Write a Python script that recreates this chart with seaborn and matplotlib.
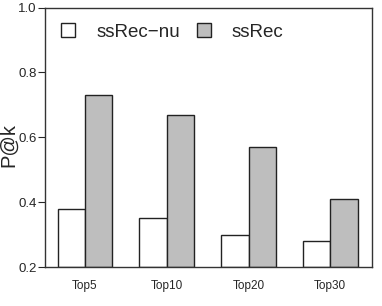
import pandas as pd
import matplotlib
matplotlib.use("Agg")
import matplotlib.pyplot as plt
import seaborn as sns

# -------------------
# Data
categories = ["Top5", "Top10", "Top20", "Top30"]
ssrec_nu = [0.38, 0.35, 0.30, 0.28]
ssrec = [0.73, 0.67, 0.57, 0.41]
series_names = ["ssRec\u2212nu", "ssRec"]

df = pd.DataFrame({
    "cat": categories * 2,
    "value": ssrec_nu + ssrec,
    "method": [series_names[0]] * 4 + [series_names[1]] * 4,
})

sns.set_style("white")
plt.rcParams["font.family"] = ["Liberation Sans", "DejaVu Sans"]

fig = plt.figure(figsize=(3.82, 3.06), dpi=100)
ax = fig.add_axes([45 / 382, 1 - 267 / 306, 327 / 382, 259.5 / 306])

sns.barplot(data=df, x="cat", y="value", hue="method", order=categories,
            palette=["white", "#bebebe"], width=0.67, edgecolor="#222222",
            linewidth=1.0, ax=ax, saturation=1)

# bars start at the bottom of the axis (0.2), like R's barplot with ylim
for p in ax.patches:
    h = p.get_height()
    p.set_y(0.2)
    p.set_height(h - 0.2)

ax.set_ylim(0.2, 1.0)
ax.set_xlim(-0.49, 3.51)
ax.set_yticks([0.2, 0.4, 0.6, 0.8, 1.0])
ax.set_yticklabels(["0.2", "0.4", "0.6", "0.8", "1.0"], fontsize=9.5)
ax.tick_params(axis="y", direction="out", length=5, width=0.8, left=True, pad=1)
ax.tick_params(axis="x", length=0, labelsize=8.5, pad=9)
ax.set_xlabel("")
ax.set_ylabel("P@k", fontsize=14.5)
ax.yaxis.set_label_coords(-0.082, 0.47)

for s in ax.spines.values():
    s.set_color("#333333")
    s.set_linewidth(1.0)

leg = ax.legend(loc="upper left", frameon=False, fontsize=13.5, ncol=2,
                handlelength=0.75, handleheight=0.75, handletextpad=1.1,
                columnspacing=0.9, borderaxespad=0.3, bbox_to_anchor=(0.01, 0.99))

fig.savefig("out.png", dpi=100)
